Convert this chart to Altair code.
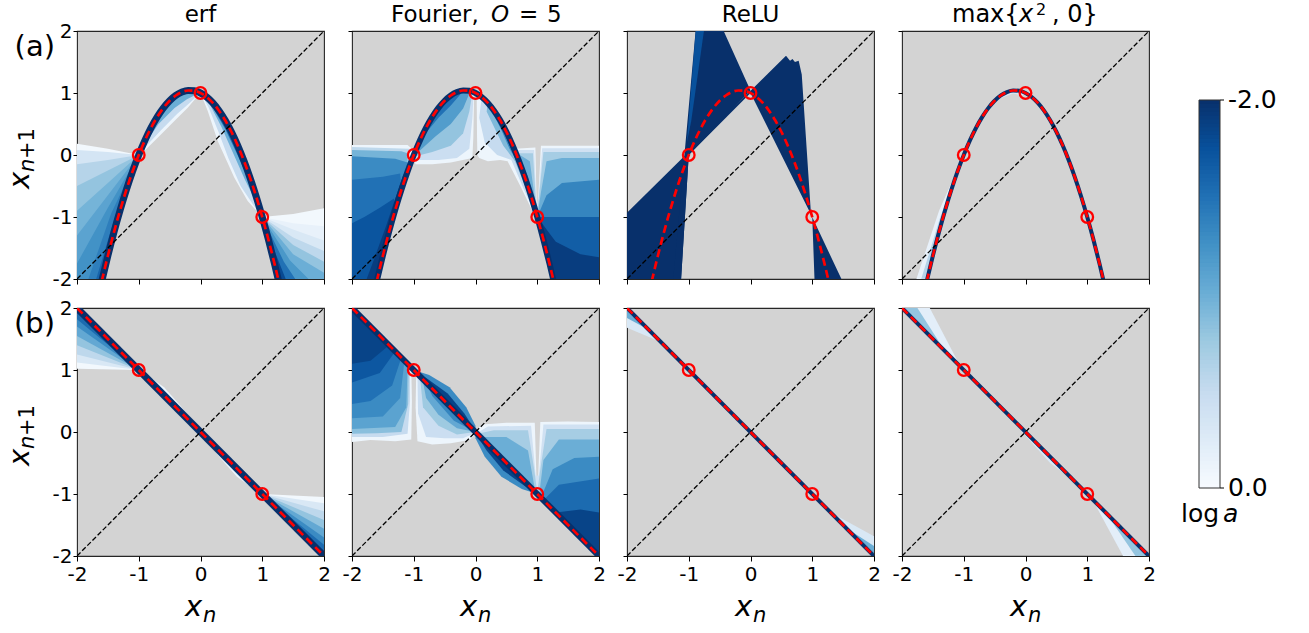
import altair as alt
import pandas as pd

TICKS = [-2, -1, 0, 1, 2]

# quadratic target map through the period-3 orbit (-1, 0, 1)
parab_x = [-1.6, -1.5, -1.4, -1.3, -1.2, -1.1, -1.0, -0.9, -0.8, -0.7, -0.6, -0.5, -0.4, -0.3, -0.2, -0.1,
           0.0, 0.1, 0.2, 0.3, 0.4, 0.5, 0.6, 0.7, 0.8, 0.9, 1.0, 1.1, 1.2, 1.3]
parab_y = [-2.04, -1.625, -1.24, -0.885, -0.56, -0.265, 0.0, 0.235, 0.44, 0.615, 0.76, 0.875, 0.96, 1.015,
           1.04, 1.035, 1.0, 0.935, 0.84, 0.715, 0.56, 0.375, 0.16, -0.085, -0.36, -0.665, -1.0, -1.365,
           -1.76, -2.185]
# linear target map through the period-2 orbit (-1, 1)
anti_x = [-2.0, 2.0]
anti_y = [2.0, -2.0]
diag_xy = [-2.0, 2.0]
fix_a_x = [-1.0, 0.0, 1.0]
fix_a_y = [0.0, 1.0, -1.0]
fix_b_x = [-1.0, 1.0]
fix_b_y = [1.0, -1.0]

BLUES = ["#08306b", "#08519c", "#2171b5", "#4292c6", "#6baed6", "#9ecae1", "#c6dbef", "#deebf7", "#f7fbff"]
BLUE_STOPS = [-2.0, -1.75, -1.5, -1.25, -1.0, -0.75, -0.5, -0.25, 0.0]

# colour bar of log a
cbar_lo = [round(-2.0 + 0.02 * i, 2) for i in range(100)]
cbar_ticks = [-2.0, 0.0]
cbar_labels = ["-2.0", "0.0"]


def seg(a, b):
    return [(x, y) for x, y in zip(parab_x, parab_y) if a - 1e-9 <= x <= b + 1e-9]


def rseg(a, b):
    return seg(a, b)[::-1]


def fan_left(level, mid, end):
    """Wedge left of the parabola, opening from the fixed point (-1, 0)."""
    tail = [(-2, -2.1), (-1.6, -2.1)] if end[0] <= -2 else [(-1.6, -2.1)]
    return (level, [(-1, 0), mid, end] + tail + seg(-1.6, -1.1))


def fan_right(level, mid, end):
    """Wedge right of the parabola, opening from the fixed point (1, -1)."""
    head = [(2, -2.1)] if end[0] >= 2 else []
    return (level, seg(1.0, 1.3) + head + [end, mid])


# filled contour regions of log a: (level, polygon), drawn in order
erf_a = [
    fan_left(-0.05, (-1.5, 0.1), (-2, 0.18)),
    fan_left(-0.35, (-1.5, 0.05), (-2, 0.08)),
    fan_left(-0.6, (-1.5, -0.08), (-2, -0.15)),
    fan_left(-0.8, (-1.5, -0.25), (-2, -0.5)),
    fan_left(-0.95, (-1.5, -0.45), (-2, -0.9)),
    fan_left(-1.1, (-1.5, -0.65), (-2, -1.3)),
    fan_left(-1.25, (-1.5, -0.85), (-2, -1.75)),
    fan_left(-1.4, (-1.45, -0.95), (-1.85, -2.1)),
    fan_left(-1.6, (-1.38, -0.98), (-1.72, -2.1)),
    fan_left(-1.85, (-1.33, -0.95), (-1.65, -2.1)),
    (-0.1, seg(-1.0, 0.0) + [(-0.045, 0.95), (-0.21, 0.76), (-0.37, 0.6), (-0.64, 0.33), (-0.91, 0.065)]),
    (-0.5, seg(-1.0, 0.0) + [(-0.045, 0.96), (-0.2, 0.82), (-0.38, 0.66), (-0.64, 0.4), (-0.92, 0.1)]),
    (-1.0, seg(-1.0, 0.0) + [(-0.06, 0.98), (-0.22, 0.9), (-0.42, 0.76), (-0.68, 0.5), (-0.94, 0.12)]),
    (-1.5, seg(-1.0, 0.0) + [(-0.12, 1.0), (-0.3, 0.97), (-0.5, 0.83), (-0.72, 0.56), (-0.96, 0.08)]),
    (-0.1, seg(0.0, 1.0) + [(0.764, -0.742), (0.548, -0.366), (0.279, 0.226), (0.117, 0.71)]),
    (-0.5, seg(0.0, 1.0) + [(0.85, -0.8), (0.65, -0.5), (0.45, -0.05), (0.3, 0.35), (0.13, 0.77), (0.02, 0.97)]),
    (-1.0, seg(0.0, 1.0) + [(0.92, -0.8), (0.72, -0.4), (0.52, 0.05), (0.34, 0.45), (0.15, 0.82), (0.02, 0.98)]),
    (-1.5, seg(0.0, 1.0) + [(0.96, -0.88), (0.8, -0.45), (0.6, 0.0), (0.4, 0.42), (0.18, 0.8), (0.03, 0.97)]),
    fan_right(-0.05, (1.5, -0.95), (2, -0.86)),
    fan_right(-0.15, (1.5, -1.1), (2, -1.15)),
    fan_right(-0.3, (1.5, -1.2), (2, -1.38)),
    fan_right(-0.55, (1.5, -1.33), (2, -1.55)),
    fan_right(-0.8, (1.5, -1.45), (2, -1.72)),
    fan_right(-1.0, (1.5, -1.6), (2, -1.9)),
    fan_right(-1.2, (1.45, -1.7), (1.85, -2.1)),
    fan_right(-1.5, (1.35, -1.72), (1.6, -2.1)),
    fan_right(-1.8, (1.22, -1.6), (1.42, -2.1)),
]

fourier_a = [
    (-0.1, [(-2, 0.16), (-2, -2.1), (-1.6, -2.1)] + seg(-1.6, -1.0) + [(-1.03, 0.1), (-1.1, 0.16)]),
    (-0.55, [(-2, 0.13), (-2, -2.1), (-1.6, -2.1)] + seg(-1.6, -1.1) + [(-1.07, 0.1)]),
    (-0.95, [(-2, 0.08), (-2, -2.1), (-1.6, -2.1)] + seg(-1.6, -1.1) + [(-1.1, 0.03), (-1.2, 0.06)]),
    (-1.3, [(-2, -0.02), (-2, -2.1), (-1.6, -2.1)] + seg(-1.6, -1.1) + [(-1.1, -0.12), (-1.3, -0.06)]),
    (-1.5, [(-2, -0.4), (-2, -2.1), (-1.6, -2.1)] + seg(-1.6, -1.2) + [(-1.22, -0.3), (-1.5, -0.35)]),
    (-1.72, [(-2, -1.1), (-2, -2.1), (-1.6, -2.1)] + seg(-1.6, -1.3) + [(-1.32, -0.7), (-1.55, -0.85),
                                                                      (-1.8, -1.0)]),
    (-1.9, [(-1.8, -2.1), (-1.6, -2.1)] + seg(-1.6, -1.0) + [(-1.03, -0.03), (-1.18, -0.35), (-1.45, -1.15),
                                                           (-1.65, -1.7)]),
    (-0.1, seg(-1.0, -0.1) + [(-0.02, 1.01), (-0.025, 0.85), (-0.035, 0.3), (-0.05, -0.05), (-0.4, -0.12),
                              (-0.7, -0.15), (-0.97, -0.15), (-1.0, -0.05)]),
    (-0.45, seg(-1.0, -0.1) + [(-0.03, 1.0), (-0.05, 0.6), (-0.1, 0.1), (-0.3, -0.05), (-0.6, -0.08),
                               (-0.96, -0.08)]),
    (-0.8, seg(-1.0, -0.1) + [(-0.05, 1.0), (-0.1, 0.7), (-0.2, 0.35), (-0.4, 0.15), (-0.7, 0.05), (-0.97, -0.02)]),
    (-1.15, seg(-1.0, -0.1) + [(-0.1, 0.99), (-0.2, 0.75), (-0.4, 0.5), (-0.65, 0.3), (-0.98, 0.0)]),
    (-1.5, seg(-1.0, -0.2) + [(-0.25, 0.97), (-0.4, 0.8), (-0.6, 0.6), (-0.85, 0.3), (-0.99, 0.0)]),
    (-1.85, seg(-1.0, -0.2) + [(-0.3, 0.98), (-0.5, 0.85), (-0.7, 0.58), (-0.9, 0.2)]),
    (-0.1, [(0.03, 0.0), (0.025, 0.3), (0.02, 0.85), (0.02, 0.99)] + seg(0.1, 1.0)
     + [(0.95, -0.96), (0.74, -0.53), (0.52, -0.1), (0.4, -0.08), (0.2, -0.1), (0.06, -0.05)]),
    (-0.5, seg(0.1, 1.0) + [(0.97, -0.95), (0.78, -0.55), (0.58, -0.08), (0.35, 0.0), (0.15, 0.2), (0.06, 0.6)]),
    (-0.9, seg(0.2, 1.0) + [(0.98, -0.95), (0.82, -0.55), (0.64, -0.1), (0.45, 0.15), (0.3, 0.45), (0.18, 0.7)]),
    (-1.3, seg(0.3, 1.0) + [(0.98, -0.94), (0.86, -0.55), (0.7, -0.15), (0.55, 0.1), (0.42, 0.4), (0.32, 0.6)]),
    (-1.75, seg(0.4, 1.0) + [(0.99, -0.99), (0.9, -0.72), (0.77, -0.35), (0.62, 0.0), (0.5, 0.28)]),
    (-0.1, [(0.64, 0.1), (0.97, 0.12), (0.99, -0.8), (1.01, -0.8), (1.06, 0.15), (2, 0.15), (2, -2.1),
            (1.3, -2.185)] + rseg(0.7, 1.2)),
    (-0.4, [(0.66, 0.08), (0.95, 0.08), (0.985, -0.75), (1.015, -0.75), (1.08, 0.11), (2, 0.11), (2, -2.1),
            (1.3, -2.185)] + rseg(0.7, 1.2)),
    (-0.7, [(0.69, 0.03), (0.93, 0.03), (0.975, -0.7), (1.0, -0.9), (1.025, -0.7), (1.1, 0.05), (2, 0.05),
            (2, -2.1), (1.3, -2.185)] + rseg(0.7, 1.2)),
    (-1.0, [(0.72, 0.0), (0.88, -0.1), (0.96, -0.7), (1.0, -1.0), (0.9, -0.665), (0.8, -0.36)]),
    (-1.0, [(1.0, -1.0), (1.06, -0.6), (1.15, -0.1), (1.4, -0.05), (2, -0.05), (2, -2.1), (1.3, -2.185),
            (1.2, -1.76), (1.1, -1.365)]),
    (-1.35, [(0.75, -0.12), (0.85, -0.35), (0.95, -0.75), (1.0, -1.0), (0.9, -0.665), (0.8, -0.36)]),
    (-1.35, [(1.0, -1.0), (1.15, -0.65), (1.4, -0.45), (2, -0.4), (2, -2.1), (1.3, -2.185), (1.2, -1.76),
             (1.1, -1.365)]),
    (-1.65, [(1.0, -1.0), (1.3, -1.0), (1.7, -1.0), (2, -1.0), (2, -2.1), (1.3, -2.185), (1.2, -1.76),
             (1.1, -1.365)]),
    (-1.9, [(1.0, -1.0), (1.3, -1.4), (1.7, -1.6), (2, -1.65), (2, -2.1), (1.3, -2.185), (1.2, -1.76),
            (1.1, -1.365)]),
]

relu_a = [
    (-2.0, [(-2, -0.93), (0.575, 1.6), (0.64, 1.52), (0.68, 1.55), (0.72, 1.5), (0.78, 1.52), (0.83, 1.3),
            (0.98, -0.96), (1.52, -2.1), (1.04, -2.1), (1.0, -1.0), (0.0, 1.0), (-1.0, 0.0), (-1.13, -2.1),
            (-2, -2.1)]),
    (-2.0, [(-1.26, -2.1), (-1.07, 0.0), (-0.88, 2.1), (-0.48, 2.1), (0.0, 1.04), (-1.0, 0.0), (-1.13, -2.1)]),
    (-1.75, [(-0.88, 2.1), (-0.74, 2.1), (-0.96, 0.55), (-1.03, 0.2)]),
]

max_a = [
    (-0.15, [(-1, 0), (-1.4, -0.9), (-1.8, -2.1), (-1.6, -2.1)] + seg(-1.6, -1.1)),
    (-0.6, [(-1, 0), (-1.38, -1.0), (-1.72, -2.1), (-1.6, -2.1)] + seg(-1.6, -1.1)),
    (-0.3, seg(-0.6, 0.0) + [(-0.05, 0.96), (-0.2, 0.99), (-0.4, 0.92), (-0.55, 0.78)]),
]

erf_b = [
    (-0.05, [(-1, 1), (-2, 1.02), (-2, 2)]),
    (-0.3, [(-1, 1), (-2, 1.12), (-2, 2)]),
    (-0.55, [(-1, 1), (-2, 1.25), (-2, 2)]),
    (-0.8, [(-1, 1), (-2, 1.4), (-2, 2)]),
    (-1.05, [(-1, 1), (-2, 1.55), (-2, 2)]),
    (-1.3, [(-1, 1), (-2, 1.7), (-2, 2)]),
    (-1.55, [(-1, 1), (-2, 1.82), (-2, 2)]),
    (-1.8, [(-1, 1), (-2, 1.92), (-2, 2)]),
    (-0.05, [(1, -1), (2, -1.05), (2, -2)]),
    (-0.3, [(1, -1), (2, -1.15), (2, -2)]),
    (-0.55, [(1, -1), (2, -1.28), (2, -2)]),
    (-0.8, [(1, -1), (2, -1.42), (2, -2)]),
    (-1.05, [(1, -1), (2, -1.56), (2, -2)]),
    (-1.3, [(1, -1), (2, -1.7), (2, -2)]),
    (-1.55, [(1, -1), (2, -1.82), (2, -2)]),
    (-1.8, [(1, -1), (2, -1.92), (2, -2)]),
    (-0.1, [(-1, 1), (-0.91, 0.95), (-0.59, 0.72), (-0.32, 0.42), (-0.1, 0.14), (0, 0)]),
    (-0.9, [(-1, 1), (-0.75, 0.83), (-0.5, 0.58), (-0.28, 0.34), (-0.08, 0.1), (0, 0)]),
    (-0.1, [(0, 0), (0.1, -0.14), (0.32, -0.42), (0.59, -0.72), (0.91, -0.95), (1, -1)]),
    (-0.9, [(0, 0), (0.08, -0.1), (0.28, -0.34), (0.5, -0.58), (0.75, -0.83), (1, -1)]),
]

fourier_b = [
    (-0.1, [(-2, 2), (-1.04, 1.04), (-1.03, 0.5), (-1.04, -0.12), (-1.3, -0.15), (-1.7, -0.13), (-2, -0.16)]),
    (-0.5, [(-2, 2), (-1.06, 1.06), (-1.06, 0.5), (-1.1, -0.03), (-1.5, -0.08), (-2, -0.08)]),
    (-0.85, [(-2, 2), (-1.08, 1.08), (-1.09, 0.45), (-1.2, 0.0), (-1.6, -0.02), (-2, -0.03)]),
    (-1.1, [(-2, 2), (-1.1, 1.1), (-1.12, 0.4), (-1.3, 0.08), (-2, 0.05)]),
    (-1.3, [(-2, 2), (-1.15, 1.15), (-1.22, 0.55), (-1.5, 0.25), (-2, 0.22)]),
    (-1.5, [(-2, 2), (-1.2, 1.2), (-1.35, 0.75), (-1.7, 0.5), (-2, 0.45)]),
    (-1.7, [(-2, 2), (-1.3, 1.3), (-1.55, 0.95), (-2, 0.8)]),
    (-1.85, [(-2, 2), (-1.4, 1.4), (-1.7, 1.15), (-2, 1.1)]),
    (-0.1, [(-0.96, 0.96), (0.02, -0.02), (-0.1, -0.13), (-0.4, -0.18), (-0.7, -0.2), (-0.94, -0.15),
            (-0.97, 0.4)]),
    (-0.45, [(-0.94, 0.94), (0.01, -0.01), (-0.2, -0.1), (-0.5, -0.1), (-0.8, -0.08), (-0.93, 0.3)]),
    (-0.75, [(-0.9, 0.9), (0.0, 0.0), (-0.3, -0.04), (-0.6, 0.1), (-0.85, 0.4)]),
    (-1.05, [(-0.86, 0.86), (0.0, 0.0), (-0.3, 0.06), (-0.6, 0.28), (-0.8, 0.55)]),
    (-1.35, [(-0.8, 0.8), (0.0, 0.0), (-0.35, 0.18), (-0.7, 0.58)]),
    (-1.3, [(-1, 1), (-0.75, 0.92), (-0.42, 0.72), (-0.15, 0.4), (0.0, 0.1), (0, 0)]),
    (-1.85, [(-1, 1), (-0.78, 0.86), (-0.45, 0.62), (-0.18, 0.3), (-0.02, 0.05), (0, 0)]),
    (-0.1, [(0, 0), (0.1, 0.12), (0.5, 0.15), (0.96, 0.15), (0.99, -0.85), (1.01, -0.85), (1.05, 0.16),
            (1.5, 0.17), (2, 0.16), (2, -2)]),
    (-0.4, [(0.02, -0.02), (0.2, 0.09), (0.9, 0.1), (0.975, -0.7), (1.025, -0.7), (1.1, 0.12), (2, 0.12),
            (2, -2)]),
    (-0.7, [(0.03, -0.03), (0.3, 0.03), (0.85, 0.03), (0.95, -0.6), (1.0, -0.97), (1.05, -0.6), (1.15, 0.05),
            (2, 0.05), (2, -2)]),
    (-1.0, [(0.08, -0.08), (0.5, -0.08), (0.85, -0.3), (0.97, -0.97)]),
    (-1.0, [(1.03, -1.03), (1.1, -0.45), (1.35, -0.12), (2, -0.12), (2, -2)]),
    (-1.3, [(1.06, -1.06), (1.25, -0.6), (1.6, -0.42), (2, -0.4), (2, -2)]),
    (-1.55, [(1.1, -1.1), (1.35, -0.85), (2, -0.75), (2, -2)]),
    (-1.85, [(1.3, -1.3), (1.7, -1.25), (2, -1.3), (2, -2)]),
    (-1.3, [(0, 0), (0.0, -0.1), (0.15, -0.4), (0.42, -0.72), (0.75, -0.92), (1, -1)]),
    (-1.85, [(0, 0), (0.02, -0.05), (0.18, -0.3), (0.45, -0.62), (0.78, -0.86), (1, -1)]),
]

relu_b = [
    (-0.3, [(-2, 2), (-1.45, 1.45), (-2, 1.68)]),
    (-1.0, [(-2, 2), (-1.65, 1.65), (-2, 1.84)]),
    (-0.3, [(2, -2), (1.3, -1.3), (2, -1.68)]),
    (-1.0, [(2, -2), (1.55, -1.55), (2, -1.84)]),
]

max_b = [
    (-0.2, [(-2, 2), (-1.55, 2.0), (-1.05, 1.05)]),
    (-0.8, [(-2, 2), (-1.75, 2.0), (-1.3, 1.3)]),
    (-0.2, [(2, -2), (1.58, -2.0), (1.08, -1.08)]),
    (-0.8, [(2, -2), (1.78, -2.0), (1.3, -1.3)]),
    (-0.3, [(-0.5, 0.5), (0.8, -0.8), (0.4, -0.5), (0.0, -0.06)]),
]

W, H = 247, 248
FONT = "DejaVu Sans"
CSCALE = alt.Scale(domain=BLUE_STOPS, range=BLUES, interpolate="rgb")
POS = alt.Scale(domain=[-2, 2], nice=False, zero=False)
LABEL_EXPR = "datum.value < 0 ? '-' + abs(datum.value) : '' + datum.value"
PANEL_VIEW = alt.ViewBackground(fill="#d3d3d3", stroke="#262626", strokeWidth=1.1)


def xaxis(show):
    return alt.Axis(values=TICKS, labels=show, tickSize=5, tickWidth=1, tickColor="black", domain=False,
                    grid=False, title=None, labelFontSize=20, labelFont=FONT, labelColor="black",
                    labelPadding=3, labelFlush=False, labelOverlap=False, labelExpr=LABEL_EXPR)


def yaxis(show):
    return alt.Axis(values=TICKS, labels=show, tickSize=4, tickWidth=1, tickColor="black", domain=False,
                    grid=False, title=None, labelFontSize=20, labelFont=FONT, labelColor="black",
                    labelPadding=1, labelFlush=False, labelOverlap=False, labelExpr=LABEL_EXPR,
                    labelBaseline="middle")


def text_layers(items):
    out = []
    for txt, x, y, size, style, align, base, angle in items:
        out.append(
            alt.Chart(pd.DataFrame({"t": [txt]}))
            .mark_text(align=align, baseline=base, fontSize=size, fontStyle=style, font=FONT,
                       color="black", angle=angle)
            .encode(text="t:N", x=alt.value(x), y=alt.value(y))
        )
    return out


def panel(regions, map_x, map_y, fx, fy, band_w, texts, row, col):
    X = alt.X("x:Q", scale=POS, axis=xaxis(row == 1))
    Y = alt.Y("y:Q", scale=POS, axis=yaxis(col == 0))
    layers = []
    for lvl, pts in regions:
        df = pd.DataFrame({"x": [p[0] for p in pts], "y": [p[1] for p in pts],
                           "i": list(range(len(pts))), "level": [lvl] * len(pts)})
        layers.append(
            alt.Chart(df).mark_line(clip=True, strokeWidth=0)
            .encode(x=X, y=Y, order=alt.Order("i:Q"), fill=alt.Fill("level:Q", scale=CSCALE, legend=None))
        )
    curve = pd.DataFrame({"x": map_x, "y": map_y, "level": [-2.0] * len(map_x)})
    if band_w > 0:
        layers.append(
            alt.Chart(curve).mark_line(clip=True, strokeWidth=band_w, interpolate="monotone")
            .encode(x=X, y=Y, stroke=alt.Stroke("level:Q", scale=CSCALE, legend=None))
        )
    diag = pd.DataFrame({"x": diag_xy, "y": diag_xy})
    layers.append(alt.Chart(diag).mark_line(clip=True, color="black", strokeWidth=1.3, strokeDash=[5, 2.3])
                  .encode(x=X, y=Y))
    layers.append(alt.Chart(curve).mark_line(clip=True, color="#ff0000", strokeWidth=2.7, strokeDash=[8, 4.5],
                                             interpolate="monotone")
                  .encode(x=X, y=Y))
    orbit = pd.DataFrame({"x": fx, "y": fy})
    layers.append(alt.Chart(orbit).mark_point(shape="circle", filled=False, color="#ff0000", size=135,
                                              strokeWidth=2.3, opacity=1)
                  .encode(x=X, y=Y))
    layers += text_layers(texts)
    return layers


TY = -9
Y_TITLE = [("x", -48, 158, 29, "italic", "left", "alphabetic", 270),
           ("n", -43, 141, 21, "italic", "left", "alphabetic", 270),
           ("+1", -43, 128, 21, "normal", "left", "alphabetic", 270)]
X_TITLE = [("x", 108, 308, 29, "italic", "left", "alphabetic", 0),
           ("n", 126, 314, 21, "italic", "left", "alphabetic", 0)]

t_a1 = [("erf", W / 2, TY, 23, "normal", "center", "alphabetic", 0),
        ("(a)", -22, 16, 29, "normal", "right", "middle", 0)] + Y_TITLE
t_a2 = [("Fourier,", 39, TY, 23, "normal", "left", "alphabetic", 0),
        ("O", 139, TY, 23, "italic", "left", "alphabetic", 0),
        ("=", 167, TY, 23, "normal", "left", "alphabetic", 0),
        ("5", 195, TY, 23, "normal", "left", "alphabetic", 0)]
t_a3 = [("ReLU", W / 2, TY, 23, "normal", "center", "alphabetic", 0)]
t_a4 = [("max{", 50, TY, 24, "normal", "left", "alphabetic", 0),
        ("x", 117, TY, 24, "italic", "left", "alphabetic", 0),
        ("2", 134, -16, 16, "normal", "left", "alphabetic", 0),
        (", 0}", 150, TY, 24, "normal", "left", "alphabetic", 0),
        ("log", 279, 491, 25, "normal", "left", "alphabetic", 0),
        ("a", 321, 491, 25, "italic", "left", "alphabetic", 0)]
t_b1 = [("(b)", -22, 16, 29, "normal", "right", "middle", 0)] + Y_TITLE + X_TITLE
t_b = X_TITLE

a1 = panel(erf_a, parab_x, parab_y, fix_a_x, fix_a_y, 7, t_a1, 0, 0)
# fixes the top-left corner of the drawing
a1.append(alt.Chart(pd.DataFrame({"k": [0]})).mark_rule(color="white", strokeWidth=0.5)
          .encode(x=alt.value(-76), x2=alt.value(-75.5), y=alt.value(-30), y2=alt.value(-29.5)))
a2 = panel(fourier_a, parab_x, parab_y, fix_a_x, fix_a_y, 6, t_a2, 0, 1)
a3 = panel(relu_a, parab_x, parab_y, fix_a_x, fix_a_y, 0, t_a3, 0, 2)
a4 = panel(max_a, parab_x, parab_y, fix_a_x, fix_a_y, 4, t_a4, 0, 3)
b1 = panel(erf_b, anti_x, anti_y, fix_b_x, fix_b_y, 7, t_b1, 1, 0)
b2 = panel(fourier_b, anti_x, anti_y, fix_b_x, fix_b_y, 6, t_b, 1, 1)
b3 = panel(relu_b, anti_x, anti_y, fix_b_x, fix_b_y, 4, t_b, 1, 2)
b4 = panel(max_b, anti_x, anti_y, fix_b_x, fix_b_y, 4, t_b, 1, 3)

# colour bar, drawn beside the last panel of the top row on its own scale
cb_df = pd.DataFrame({"lo": cbar_lo, "hi": [min(v + 0.025, 0.0) for v in cbar_lo],
                      "level": [v + 0.01 for v in cbar_lo]})
cb_scale = alt.Scale(domain=[-2, 0], range=[69, 457], nice=False, zero=False)
CBY = alt.Y("lo:Q", scale=cb_scale, axis=None)
cb_strips = alt.Chart(cb_df).mark_rect(strokeWidth=0).encode(
    x=alt.value(297), x2=alt.value(318), y=CBY, y2="hi:Q",
    fill=alt.Fill("level:Q", scale=CSCALE, legend=None))
cb_frame = alt.Chart(pd.DataFrame({"lo": [-2.0], "hi": [0.0]})).mark_rect(
    filled=False, stroke="#333333", strokeWidth=1).encode(
    x=alt.value(297), x2=alt.value(318), y=CBY, y2="hi:Q")
cb_tick_df = pd.DataFrame({"lo": cbar_ticks, "lab": cbar_labels})
cb_ticks = alt.Chart(cb_tick_df).mark_rule(color="black", strokeWidth=1).encode(
    x=alt.value(318), x2=alt.value(322), y=CBY)
cb_text = alt.Chart(cb_tick_df).mark_text(align="left", baseline="middle", fontSize=25, font=FONT,
                                          color="black").encode(x=alt.value(326), y=CBY, text="lab:N")


def view(layers):
    return alt.layer(*layers).properties(width=W, height=H, view=PANEL_VIEW)


p_a4 = alt.layer(alt.layer(*a4), alt.layer(cb_strips, cb_frame, cb_ticks, cb_text)).resolve_scale(
    y="independent").properties(width=W, height=H, view=PANEL_VIEW)

chart = alt.concat(view(a1), view(a2), view(a3), p_a4, view(b1), view(b2), view(b3), view(b4),
                   columns=4, spacing={"row": 29, "column": 28}, bounds="flush").properties(
    padding={"left": 0, "top": 0, "right": 10, "bottom": 10}).configure(background="white")

chart.save("out.html", embed_options={"renderer": "svg", "actions": False})
